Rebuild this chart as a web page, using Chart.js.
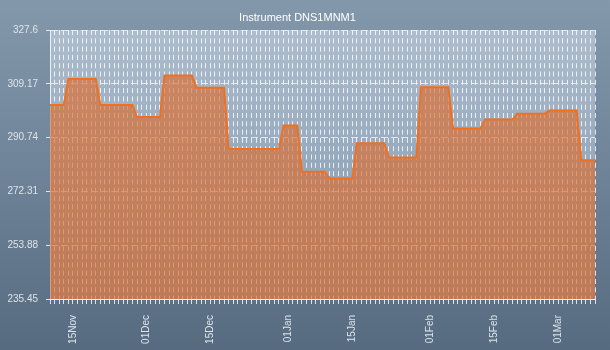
<!DOCTYPE html>
<html>
<head>
<meta charset="utf-8">
<script src="https://cdn.jsdelivr.net/npm/chart.js@4/dist/chart.umd.min.js"></script>
<style>
  html, body { margin: 0; padding: 0; }
  #wrap { width: 610px; height: 350px; background: linear-gradient(to bottom, #8498ac 0%, #6f8398 50%, #566a80 100%); }
  canvas { display: block; }
</style>
</head>
<body>
<div id="wrap"><canvas id="c" width="610" height="350"></canvas></div>
<script>
// Daily values from 10 Nov (index 0) to 09 Mar (index 119)
const values = [
  301.9, 301.9, 301.9, 301.9,
  310.8, 310.8, 310.8, 310.8, 310.8, 310.8, 310.8,
  301.9, 301.9, 301.9, 301.9, 301.9, 301.9, 301.9, 301.9,
  297.8, 297.8, 297.8, 297.8, 297.8, 297.8,
  312.0, 312.0, 312.0, 312.0, 312.0, 312.0, 312.0,
  307.8, 307.8, 307.8, 307.8, 307.8, 307.8, 307.8,
  286.8, 286.8, 286.8, 286.8, 286.8, 286.8, 286.8, 286.8, 286.8, 286.8, 286.8, 286.8,
  294.9, 294.9, 294.9, 294.9,
  279.0, 279.0, 279.0, 279.0, 279.0, 279.0,
  276.7, 276.7, 276.7, 276.7, 276.7, 276.7,
  288.8, 288.8, 288.8, 288.8, 288.8, 288.8, 288.8,
  283.9, 283.9, 283.9, 283.9, 283.9, 283.9, 283.9,
  308.0, 308.0, 308.0, 308.0, 308.0, 308.0, 308.0,
  293.9, 293.9, 293.9, 293.9, 293.9, 293.9, 293.9,
  296.9, 296.9, 296.9, 296.9, 296.9, 296.9, 296.9,
  298.9, 298.9, 298.9, 298.9, 298.9, 298.9, 298.9,
  300.0, 300.0, 300.0, 300.0, 300.0, 300.0, 300.0,
  283.0, 283.0, 283.0, 283.0
];
// x tick labels and the day index they sit on
const xTickDays = [5, 21, 35, 52, 66, 83, 97, 111];
const xTickLabels = ['15Nov', '01Dec', '15Dec', '01Jan', '15Jan', '01Feb', '15Feb', '01Mar'];
// y tick labels
const yTicks = [235.45, 253.88, 272.31, 290.74, 309.17, 327.6];
const title = 'Instrument DNS1MNM1';

const points = values.map((v, i) => ({ x: i, y: v }));
const labelMap = {};
xTickDays.forEach((d, i) => { labelMap[d] = xTickLabels[i]; });

const plotBg = {
  id: 'plotBg',
  beforeDraw(chart) {
    const { ctx, chartArea: a } = chart;
    const g = ctx.createLinearGradient(0, a.top, 0, a.bottom);
    g.addColorStop(0, '#adbdce');
    g.addColorStop(1, '#7f94a9');
    ctx.save();
    ctx.fillStyle = g;
    ctx.fillRect(a.left, a.top, a.right - a.left, a.bottom - a.top);
    ctx.restore();
  }
};

const FONT = "'Liberation Sans', Arial, sans-serif";

new Chart(document.getElementById('c'), {
  type: 'line',
  data: {
    datasets: [{
      data: points,
      borderColor: '#f07020',
      borderWidth: 2,
      backgroundColor: 'rgba(220,110,48,0.66)',
      fill: 'start',
      pointRadius: 0,
      tension: 0
    }]
  },
  options: {
    responsive: false,
    animation: false,
    layout: { padding: { left: 0, right: 15, top: 0, bottom: 0 } },
    plugins: {
      legend: { display: false },
      tooltip: { enabled: false },
      title: {
        display: true,
        text: title,
        color: '#ffffff',
        font: { family: FONT, size: 11, weight: 'normal' },
        padding: { top: 11, bottom: 5.8 }
      }
    },
    scales: {
      x: {
        type: 'linear',
        min: 0,
        max: values.length - 1,
        afterFit(s) { s.height = 51; s.paddingLeft = 0; s.paddingRight = 0; },
        ticks: {
          stepSize: 1,
          maxTicksLimit: 1000,
          autoSkip: false,
          maxRotation: 90,
          minRotation: 90,
          padding: 11,
          color: '#dde4ea',
          font: { family: FONT, size: 10 },
          callback: (v) => labelMap[v] || ''
        },
        grid: {
          color: 'rgba(255,255,255,0.8)',
          lineWidth: 1,
          tickLength: 5,
          tickColor: 'rgba(235,240,245,0.9)',
          tickBorderDash: []
        },
        border: { display: true, color: 'rgba(235,240,245,0.95)', width: 1, dash: [5, 3.3] }
      },
      y: {
        type: 'linear',
        min: yTicks[0],
        max: yTicks[yTicks.length - 1],
        afterFit(s) { s.width = 50; },
        afterBuildTicks(s) { s.ticks = yTicks.map(v => ({ value: v })); },
        ticks: {
          padding: 8,
          color: '#dde4ea',
          font: { family: FONT, size: 10 },
          callback: (v) => String(v)
        },
        grid: {
          color: 'rgba(235,240,245,0.85)',
          lineWidth: 1,
          tickLength: 4,
          tickColor: 'rgba(235,240,245,0.9)',
          tickBorderDash: []
        },
        border: { display: true, color: 'rgba(235,240,245,0.95)', width: 1, dash: [7, 3] }
      }
    }
  },
  plugins: [plotBg]
});
</script>
</body>
</html>
